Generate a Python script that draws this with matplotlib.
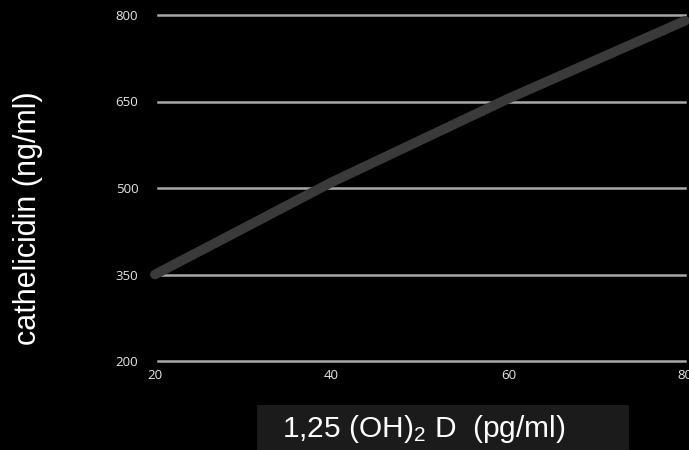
import matplotlib
matplotlib.use("Agg")
import matplotlib.pyplot as plt
from matplotlib.patches import Rectangle

plt.rcParams["mathtext.fontset"] = "custom"
plt.rcParams["mathtext.rm"] = "Liberation Sans"
plt.rcParams["mathtext.it"] = "Liberation Sans"
plt.rcParams["mathtext.default"] = "regular"

# Data
vitd_levels = [20, 40, 60, 80]            # 1,25 (OH)2 D, pg/ml
cathelicidin = [350, 510, 655, 790]       # ng/ml
x_ticks = [20, 40, 60, 80]
y_ticks = [200, 350, 500, 650, 800]

fig = plt.figure(figsize=(6.89, 4.5), dpi=100, facecolor="black")
W, H = 689, 450
# axes: x 155..685 px, y 15..361 px
ax = fig.add_axes([155 / W, 1 - 361 / H, 530 / W, 346 / H], facecolor="black")

ax.set_xlim(20, 80)
ax.set_ylim(200, 800)

for v in y_ticks:
    ax.axhline(v, color="#a8a8a8", lw=1.8, zorder=1, xmin=0.005, xmax=1.0,
               clip_on=False)

ax.plot(vitd_levels, cathelicidin, color="#3a3a3a", lw=7,
        solid_capstyle="round", solid_joinstyle="round", zorder=3, clip_on=False)

for s in ax.spines.values():
    s.set_visible(False)
ax.set_xticks(x_ticks)
ax.set_yticks(y_ticks)
ax.tick_params(length=0, colors="#e6e6e6", labelsize=9.5, pad=6)
ax.tick_params(axis="y", pad=12)
for lab in ax.get_xticklabels() + ax.get_yticklabels():
    lab.set_fontfamily("Open Sans")

# y-axis title
fig.text(28 / W, 1 - 218 / H, "cathelicidin (ng/ml)", rotation=90,
         ha="center", va="center", color="white", fontsize=22,
         fontfamily="Liberation Sans")

# x-axis title on a dark panel
fig.patches.append(Rectangle((257 / W, 0), (629 - 257) / W, (450 - 405) / H,
                             transform=fig.transFigure, facecolor="#1b1b1b",
                             edgecolor="none", zorder=0))
fig.text(282 / W, 1 - 429 / H, r"1,25 (OH)$_2$ D  (pg/ml)", ha="left", va="center",
         color="white", fontsize=21.5, fontfamily="Liberation Sans")

fig.savefig("out.png", dpi=100, facecolor="black")
